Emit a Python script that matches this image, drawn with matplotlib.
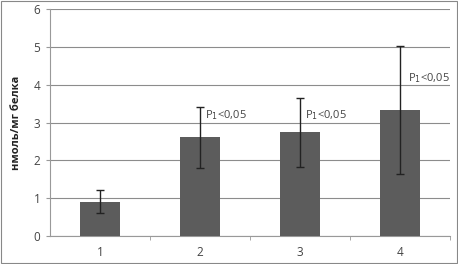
import matplotlib
matplotlib.use("Agg")
import matplotlib.pyplot as plt
from matplotlib.patches import Rectangle

categories = ["1", "2", "3", "4"]
values = [0.91, 2.61, 2.74, 3.33]
errors = [0.31, 0.8, 0.91, 1.68]
annot = ["", "P$_1$<0,05", "P$_1$<0,05", "P$_1$<0,05"]
annot_y = [None, 3.2, 3.2, 4.18]
annot_dx = [0, 0.05, 0.05, 0.08]
yticks = [0, 1, 2, 3, 4, 5, 6]

plt.rcParams['font.family'] = ['Open Sans', 'DejaVu Sans']
fig = plt.figure(figsize=(4.58, 2.64), dpi=100)
ax = fig.add_axes([50/458, 28/264, 400/458, 227/264])
x = list(range(1, 5))
ax.bar(x, values, width=0.4, color="#5c5c5c", zorder=3)
ax.errorbar(x, values, yerr=errors, fmt="none", ecolor="#222222", elinewidth=1.0, capsize=3, capthick=1.0, zorder=4)
for xi, t, ty, dx in zip(x, annot, annot_y, annot_dx):
    if t:
        ax.text(xi + dx, ty, t, fontsize=8, color="#444444", va="center", ha="left", zorder=5)
ax.set_xlim(0.5, 4.5)
ax.set_ylim(0, 6)
ax.set_yticks(yticks)
ax.set_xticks(x)
ax.set_xticklabels(categories)
ax.set_xticks([1.5, 2.5, 3.5, 4.5], minor=True)
ax.tick_params(axis='x', which='major', length=0, labelsize=8.5, labelcolor="#444444", pad=7)
ax.tick_params(axis='x', which='minor', length=3, color="#999999", direction='out')
ax.tick_params(axis='y', length=3, color="#999999", labelsize=8.5, labelcolor="#444444", pad=4)
ax.grid(axis='y', color="#8c8c8c", linewidth=0.8, zorder=0)
for s in ['top', 'right']:
    ax.spines[s].set_visible(False)
ax.spines['left'].set_color("#999999")
ax.spines['bottom'].set_color("#999999")
ax.set_ylabel("нмоль/мг белка", fontsize=8, fontweight='bold', color="#222222", labelpad=8)
fig.patches.append(Rectangle((0.002, 0.004), 0.996, 0.992, transform=fig.transFigure, fill=False, edgecolor="#888888", linewidth=0.8))
fig.savefig("out.png", dpi=100)
